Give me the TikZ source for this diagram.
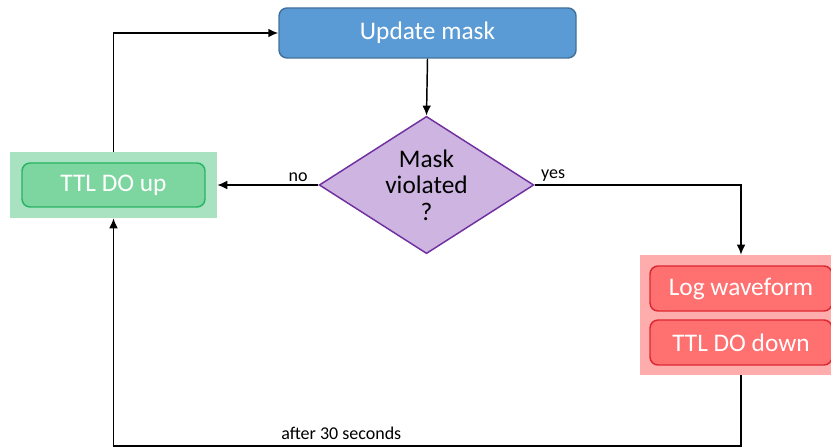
\documentclass[tikz,border=0pt]{standalone}
\usepackage{fontspec}
\setmainfont{Carlito}
\usetikzlibrary{shapes.geometric,arrows.meta}
\definecolor{maskfill}{RGB}{91,155,213}
\definecolor{maskline}{RGB}{65,113,156}
\definecolor{chkfill}{RGB}{205,180,225}
\definecolor{chkline}{RGB}{112,48,160}
\definecolor{upgrpfill}{RGB}{168,226,192}
\definecolor{upfill}{RGB}{125,214,160}
\definecolor{upline}{RGB}{40,180,100}
\definecolor{loggrpfill}{RGB}{255,172,172}
\definecolor{logfill}{RGB}{255,112,112}
\definecolor{logline}{RGB}{220,40,50}
\begin{document}
\begin{tikzpicture}[x=0.75pt,y=-0.75pt,font=\fontsize{19}{20}\selectfont,
  link/.style={draw=black,line width=1.1pt,-{Latex[length=7.5pt,width=6.5pt]}},
  stepbox/.style={rounded corners=6pt,line width=1.1pt,text=white,inner sep=0pt},
  grpbox/.style={draw=none,inner sep=0pt},
  lbl/.style={font=\fontsize{13.5}{15}\selectfont,inner sep=2pt}]

\clip (0,0) rectangle (831,448);

% start of the loop
\node[stepbox,fill=maskfill,draw=maskline,minimum width=222.75pt,minimum height=37.5pt] (upd) at (427.5,33) {Update mask};

\node[diamond,aspect=1.55,fill=chkfill,draw=chkline,line width=1.1pt,inner sep=0pt,align=center,
      minimum width=161pt,minimum height=103pt] (chk) at (426.5,185) {Mask\\violated\\?};

% no branch
\node[grpbox,fill=upgrpfill,minimum width=155.25pt,minimum height=49.5pt] (upgrp) at (113.5,185) {};
\node[stepbox,fill=upfill,draw=upline,minimum width=137.25pt,minimum height=33pt] (upbox) at (113.5,185) {TTL DO up};

% yes branch
\node[grpbox,fill=loggrpfill,minimum width=151.5pt,minimum height=90pt] (loggrp) at (741,315) {};
\node[stepbox,fill=logfill,draw=logline,minimum width=136.5pt,minimum height=33.75pt] (logbox) at (741,288.5) {Log waveform};
\node[stepbox,fill=logfill,draw=logline,minimum width=136.5pt,minimum height=33.75pt] (downbox) at (741,342.5) {TTL DO down};

\coordinate (botR) at (741,446);
\coordinate (botL) at (113.5,446);

\draw[link] (upd.south) -- (chk.north);
\draw[link] (chk.west) -- node[lbl,pos=0.2,above] {no} (upgrp.east);
\draw[link] (chk.east) -- node[lbl,pos=0.09,above] {yes} (chk.east -| loggrp.north) -- (loggrp.north);
\draw[link] (loggrp.south) -- (botR) -- node[lbl,pos=0.637,above=2pt] {after 30 seconds} (botL) -- (upgrp.south);
\draw[link] (upgrp.north) |- (upd.west);
\end{tikzpicture}
\end{document}
